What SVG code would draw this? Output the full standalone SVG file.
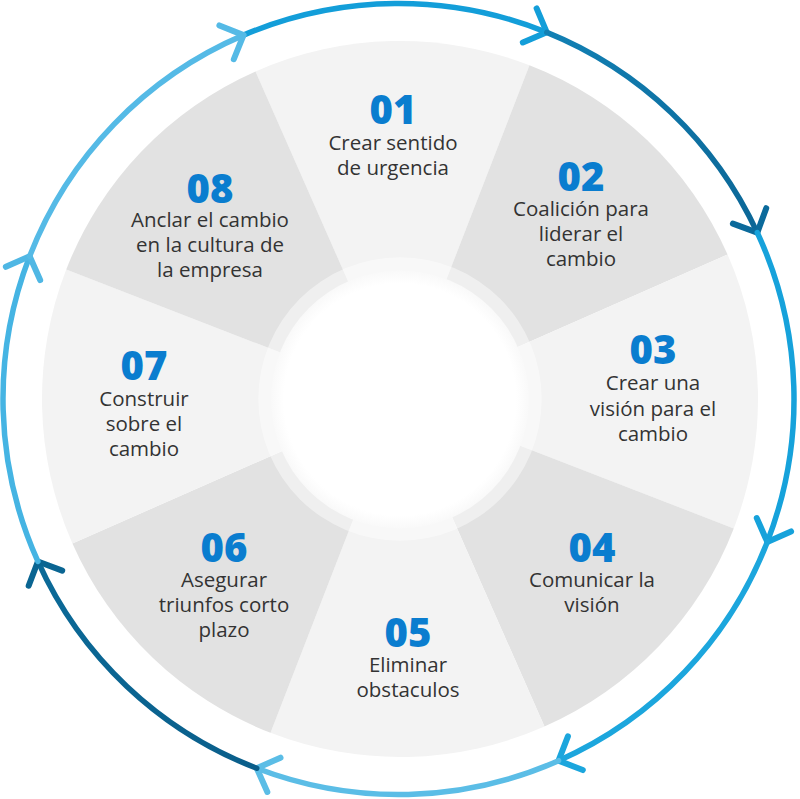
<svg xmlns="http://www.w3.org/2000/svg" width="800" height="799" viewBox="0 0 800 799">
<style>
.lt{fill:#f3f3f3}
.dk{fill:#e2e2e2}
.num{font-family:"Open Sans","Liberation Sans",sans-serif;font-weight:800;font-size:40px;fill:#0a7dcf;text-anchor:middle}
.txt{font-family:"Open Sans","Liberation Sans",sans-serif;font-size:20.5px;fill:#333333;text-anchor:middle}
.arc{fill:none;stroke-width:5.5;stroke-linecap:round}
.ah{fill:none;stroke-width:6;stroke-linecap:round;stroke-linejoin:round}
</style>
<defs>
<radialGradient id="inner" cx="400" cy="399.5" r="129" gradientUnits="userSpaceOnUse">
<stop offset="0.9" stop-color="#ffffff"/>
<stop offset="1" stop-color="#f9f9f9"/>
</radialGradient>
<linearGradient id="g12" gradientUnits="userSpaceOnUse" x1="546.78" y1="32.35" x2="757.29" y2="232.61">
<stop offset="0" stop-color="#1280b4"/>
<stop offset="1" stop-color="#0b6696"/>
</linearGradient>
<linearGradient id="g56" gradientUnits="userSpaceOnUse" x1="256.76" y1="768.23" x2="37.89" y2="561.44">
<stop offset="0" stop-color="#0a5e8a"/>
<stop offset="1" stop-color="#0b6a98"/>
</linearGradient>
</defs>
<rect width="800" height="799" fill="#ffffff"/>

<g id="node-01">
<path class="lt" d="M400,399 L255.53,71.44 A358,358 0 0 1 529.46,65.23 Z"/>
<text class="num" x="393" y="124">01</text>
<text class="txt" x="393" y="150">Crear sentido</text>
<text class="txt" x="393" y="175">de urgencia</text>
</g>
<g id="node-02">
<path class="dk" d="M400,399 L529.46,65.23 A358,358 0 0 1 727.56,254.53 Z"/>
<text class="num" x="581" y="191">02</text>
<text class="txt" x="581" y="216">Coalición para</text>
<text class="txt" x="581" y="241">liderar el</text>
<text class="txt" x="581" y="266">cambio</text>
</g>
<g id="node-03">
<path class="lt" d="M400,399 L727.56,254.53 A358,358 0 0 1 733.77,528.46 Z"/>
<text class="num" x="653" y="364">03</text>
<text class="txt" x="653" y="390">Crear una</text>
<text class="txt" x="653" y="416">visión para el</text>
<text class="txt" x="653" y="441">cambio</text>
</g>
<g id="node-04">
<path class="dk" d="M400,399 L733.77,528.46 A358,358 0 0 1 544.47,726.56 Z"/>
<text class="num" x="592" y="562">04</text>
<text class="txt" x="592" y="587">Comunicar la</text>
<text class="txt" x="592" y="612">visión</text>
</g>
<g id="node-05">
<path class="lt" d="M400,399 L544.47,726.56 A358,358 0 0 1 270.54,732.77 Z"/>
<text class="num" x="408" y="647">05</text>
<text class="txt" x="408" y="672">Eliminar</text>
<text class="txt" x="408" y="697">obstaculos</text>
</g>
<g id="node-06">
<path class="dk" d="M400,399 L270.54,732.77 A358,358 0 0 1 72.44,543.47 Z"/>
<text class="num" x="224" y="562">06</text>
<text class="txt" x="224" y="587">Asegurar</text>
<text class="txt" x="224" y="612">triunfos corto</text>
<text class="txt" x="224" y="637">plazo</text>
</g>
<g id="node-07">
<path class="lt" d="M400,399 L72.44,543.47 A358,358 0 0 1 66.23,269.54 Z"/>
<text class="num" x="144" y="380">07</text>
<text class="txt" x="144" y="406">Construir</text>
<text class="txt" x="144" y="431">sobre el</text>
<text class="txt" x="144" y="456">cambio</text>
</g>
<g id="node-08">
<path class="dk" d="M400,399 L66.23,269.54 A358,358 0 0 1 255.53,71.44 Z"/>
<text class="num" x="210" y="203">08</text>
<text class="txt" x="210" y="227">Anclar el cambio</text>
<text class="txt" x="210" y="252">en la cultura de</text>
<text class="txt" x="210" y="277">la empresa</text>
</g>

<g id="center">
<circle cx="400" cy="399" r="141.7" fill="#ffffff" fill-opacity="0.45"/>
<circle cx="400" cy="399.5" r="129" fill="url(#inner)"/>
</g>

<g id="connectors">
<path class="arc" stroke="#139ed9" d="M243.52,35.13 A395.5,395.5 0 0 1 546.78,32.35"/>
<path class="ah" stroke="#139ed9" d="M536.63,8.41 L546.78,32.35 L522.84,42.50"/>
<path class="arc" stroke="url(#g12)" d="M546.78,32.35 A395.5,395.5 0 0 1 757.29,232.61"/>
<path class="ah" stroke="#0b6a9b" d="M766.23,208.20 L757.29,232.61 L732.88,223.67"/>
<path class="arc" stroke="#16a2db" d="M757.29,232.61 A395.5,395.5 0 0 1 767.28,541.89"/>
<path class="ah" stroke="#16a2db" d="M791.07,531.39 L767.28,541.89 L756.78,518.10"/>
<path class="arc" stroke="#1ca6dd" d="M767.28,541.89 A395.5,395.5 0 0 1 558.55,760.67"/>
<path class="ah" stroke="#1ca6dd" d="M582.80,770.04 L558.55,760.67 L567.92,736.42"/>
<path class="arc" stroke="#5bbde6" d="M558.55,760.67 A395.5,395.5 0 0 1 256.76,768.23"/>
<path class="ah" stroke="#5bbde6" d="M267.34,791.98 L256.76,768.23 L280.51,757.65"/>
<path class="arc" stroke="url(#g56)" d="M256.76,768.23 A395.5,395.5 0 0 1 37.89,561.44"/>
<path class="ah" stroke="#0a6592" d="M28.68,585.75 L37.89,561.44 L62.20,570.65"/>
<path class="arc" stroke="#45b4e3" d="M37.89,561.44 A395.5,395.5 0 0 1 29.64,256.30"/>
<path class="ah" stroke="#4fb7e4" d="M5.86,266.81 L29.64,256.30 L40.15,280.08"/>
<path class="arc" stroke="#55bae6" d="M29.64,256.30 A395.5,395.5 0 0 1 243.52,35.13"/>
<path class="ah" stroke="#55bae6" d="M219.40,25.42 L243.52,35.13 L233.81,59.25"/>
</g>
</svg>
